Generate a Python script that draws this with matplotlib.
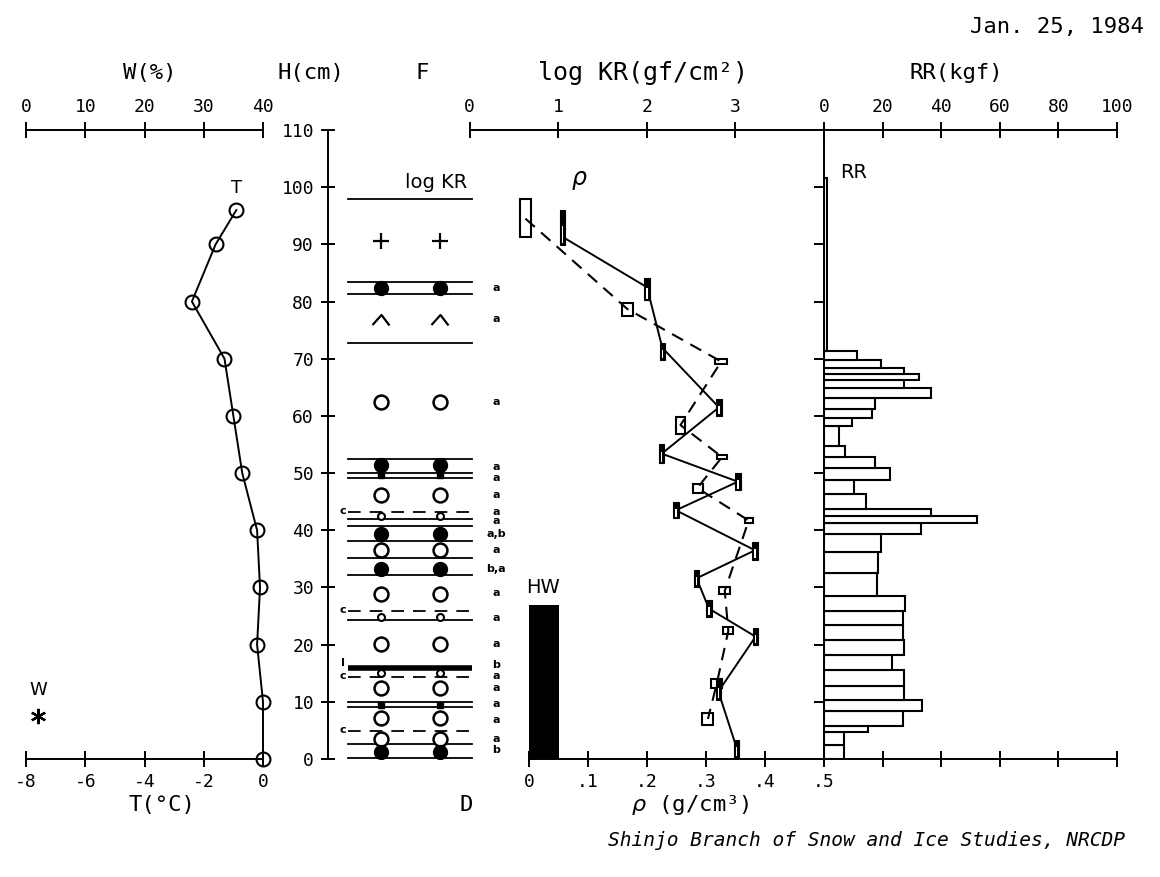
import matplotlib
matplotlib.use('Agg')
import matplotlib.pyplot as plt
from matplotlib.patches import Rectangle
from matplotlib.path import Path

plt.rcParams['font.family'] = ['DejaVu Sans Mono', 'DejaVu Sans']
plt.rcParams['axes.unicode_minus'] = False
plt.rcParams['mathtext.fontset'] = 'dejavusans'

# ---------------- data ----------------
# snow temperature profile
temp_H = [96, 90, 80, 70, 60, 50, 40, 30, 20, 10, 0]
temp_T = [-0.9, -1.6, -2.4, -1.3, -1.0, -0.7, -0.2, -0.1, -0.2, 0.0, 0.0]
# wetness
wet_H = [7.5]
wet_W = [2.0]

# ram resistance layers (bottom, top in cm; value kgf)
rr_bottom = [0, 2.4, 4.8, 5.8, 8.4, 10.3, 12.8, 15.6, 18.2, 20.8, 23.4, 25.9,
             28.5, 32.5, 36.2, 39.3, 41.3, 42.5, 43.8, 46.3, 48.8, 50.9, 52.9,
             54.8, 58.2, 59.7, 61.2, 63.2, 64.8, 66.3, 67.4, 68.3, 69.8, 71.4]
rr_top = rr_bottom[1:] + [101.6]
rr_value = [6.9, 6.9, 15.1, 27.1, 33.3, 27.4, 27.4, 23.1, 27.4, 27.1, 27.1, 27.6,
            18.2, 18.3, 19.5, 33.1, 52.3, 36.5, 14.3, 10.2, 22.5, 17.4, 7.2,
            5.2, 9.4, 16.3, 17.4, 36.5, 27.4, 32.4, 27.4, 19.5, 11.4, 1.0]

# log KR (hardness)
kr = [0.63, 1.78, 2.84, 2.38, 2.85, 2.57, 3.15, 2.88, 2.92, 2.79, 2.69]
kr_lo = [0.57, 1.72, 2.77, 2.33, 2.79, 2.52, 3.11, 2.82, 2.86, 2.73, 2.62]
kr_hi = [0.69, 1.84, 2.90, 2.43, 2.90, 2.63, 3.20, 2.94, 2.97, 2.85, 2.75]
kr_H = [94.5, 78.7, 69.5, 58.4, 52.8, 47.4, 41.7, 29.4, 22.4, 13.2, 7.0]
kr_H_lo = [91.3, 77.5, 69.1, 56.8, 52.4, 46.6, 41.3, 28.8, 21.9, 12.4, 5.9]
kr_H_hi = [97.9, 79.8, 69.9, 59.8, 53.1, 48.1, 42.1, 30.0, 23.1, 14.0, 8.1]

# density
rho = [0.057, 0.200, 0.226, 0.322, 0.225, 0.354, 0.249, 0.383, 0.284, 0.305,
       0.384, 0.321, 0.352]
rho_H = [91.3, 82.5, 71.9, 61.5, 53.4, 48.5, 43.5, 36.5, 31.6, 26.3, 21.4, 11.8, 1.9]
rho_H_lo = [89.9, 80.2, 69.8, 60.0, 51.7, 47.0, 42.1, 34.8, 30.1, 24.8, 19.9, 10.3, 0.3]
rho_H_hi = [96.0, 84.1, 72.7, 62.9, 55.1, 50.0, 44.9, 37.9, 33.0, 27.8, 22.9, 13.8, 3.3]

# HW (water) height
hw_H = 26.9

# stratigraphy (F column)
layer_H = [97.9, 83.5, 81.4, 72.8, 52.4, 50.1, 49.1, 43.2, 42.0, 40.8, 38.2,
           35.1, 32.2, 25.8, 24.3, 14.3, 10.0, 9.1, 4.9, 2.7, 0.1]
layer_style = ['-', '-', '-', '-', '-', '-', '-', '--', '-', '-', '-',
               '-', '-', '--', '-', '--', '-', '-', '--', '-', '-']
ice_H = [15.9]
grain_H = [90.6, 82.4, 77.0, 62.5, 51.4, 49.6, 46.2, 42.5, 39.3, 36.5, 33.3,
           28.8, 24.9, 20.1, 15.0, 12.4, 9.5, 7.2, 3.5, 1.3]
grain_type = ['plus', 'filled', 'facet', 'open', 'filled', 'square', 'open', 'small',
              'filled', 'open', 'filled', 'open', 'small', 'open', 'small', 'open',
              'square', 'open', 'open', 'filled']
letter_H = [82.3, 77.0, 62.5, 51.0, 49.1, 46.1, 43.2, 41.6, 39.3, 36.5, 33.3,
            29.0, 24.7, 20.1, 16.4, 14.5, 12.4, 9.6, 6.8, 3.5, 1.5]
letter_txt = ['a', 'a', 'a', 'a', 'a', 'a', 'a', 'a', 'a,b', 'a', 'b,a',
              'a', 'a', 'a', 'b', 'a', 'a', 'a', 'a', 'a', 'b']

H_ticks = list(range(0, 111, 10))
W_ticks = [0, 10, 20, 30, 40]
T_ticks = [-8, -6, -4, -2, 0]
KR_ticks = [0, 1, 2, 3]
rho_ticks = [0, 0.1, 0.2, 0.3, 0.4, 0.5]
rho_labels = ['0', '.1', '.2', '.3', '.4', '.5']
RR_ticks = [0, 20, 40, 60, 80, 100]

# ---------------- layout ----------------
FW, FH = 1160, 877
fig = plt.figure(figsize=(FW / 100, FH / 100), dpi=100)
Y_TOP, Y_BOT = 130, 759
LW = 1.4
TICKFS = 13


def add_ax(x0, x1):
    ax = fig.add_axes([x0 / FW, 1 - Y_BOT / FH, (x1 - x0) / FW, (Y_BOT - Y_TOP) / FH])
    ax.set_ylim(0, 110)
    ax.patch.set_visible(False)
    for s in ax.spines.values():
        s.set_visible(False)
        s.set_linewidth(LW)
    ax.set_xticks([])
    ax.set_yticks([])
    return ax


def ftext(x, y, s, **kw):
    kw.setdefault('ha', 'center')
    kw.setdefault('va', 'center')
    fig.text(x / FW, 1 - y / FH, s, **kw)


# ---- left panel: T (bottom) and W (top)
axT = add_ax(26, 263)
axT.set_xlim(-8, 0)
axT.spines['bottom'].set_visible(True)
axT.set_xticks(T_ticks)
axT.set_xticklabels([str(t) for t in T_ticks])
axT.tick_params(axis='x', direction='inout', length=12, width=LW, labelsize=TICKFS, pad=4)
axT.plot(temp_T, temp_H, color='k', lw=LW, marker='o', ms=10, mfc='none', mec='k',
         mew=1.5, clip_on=False, zorder=3)
axT.text(-0.9, 99.8, 'T', ha='center', va='center', fontsize=13, family='DejaVu Sans')

axW = add_ax(26, 263)
axW.set_xlim(0, 40)
axW.spines['top'].set_visible(True)
axW.xaxis.tick_top()
axW.set_xticks(W_ticks)
axW.tick_params(axis='x', direction='inout', length=12, width=LW, labelsize=TICKFS, pad=4)
axW.plot(wet_W, wet_H, ls='none', marker=(6, 2, 0), ms=11, mew=1.6, color='k')
axW.text(wet_W[0], 12.1, 'W', ha='center', va='center', fontsize=13, family='DejaVu Sans')

# ---- H axis + stratigraphy
axF = add_ax(328, 529)
axF.set_xlim(328, 529)
axF.spines['left'].set_visible(True)
axF.set_yticks(H_ticks)
axF.tick_params(axis='y', direction='inout', length=10, width=LW, labelsize=TICKFS, pad=5)

X0L, X1L = 348, 472
SYM_X = [381, 440]
for h, st in zip(layer_H, layer_style):
    if st == '--':
        axF.plot([X0L, X1L], [h, h], color='k', lw=1.3, ls=(0, (7, 5)))
        axF.text(343, h + 0.2, 'c', fontsize=8, fontweight='bold', family='DejaVu Sans',
                 ha='center', va='center')
    else:
        axF.plot([X0L, X1L], [h, h], color='k', lw=1.3)
for h in ice_H:
    axF.plot([X0L, X1L], [h, h], color='k', lw=4, solid_capstyle='butt')
    axF.text(343, h + 0.9, 'I', fontsize=8, fontweight='bold', family='DejaVu Sans',
             ha='center', va='center')

facet_path = Path([(-0.9, -0.55), (0.0, 0.45), (0.8, -0.6)],
                  [Path.MOVETO, Path.LINETO, Path.LINETO])
for h, g in zip(grain_H, grain_type):
    for x in SYM_X:
        if g == 'plus':
            axF.plot(x, h, marker='+', ms=11, mew=1.6, color='k')
        elif g == 'filled':
            axF.plot(x, h, marker='o', ms=10, mfc='k', mec='k', zorder=3)
        elif g == 'open':
            axF.plot(x, h, marker='o', ms=10, mfc='white', mec='k', mew=1.8, zorder=3)
        elif g == 'small':
            axF.plot(x, h, marker='o', ms=5, mfc='white', mec='k', mew=1.5, zorder=3)
        elif g == 'square':
            axF.plot(x, h, marker='s', ms=4, mfc='k', mec='k', zorder=3)
        elif g == 'facet':
            axF.plot(x, h, marker=facet_path, ms=13, mfc='none', mec='k', mew=1.6)
for h, t in zip(letter_H, letter_txt):
    axF.text(496, h, t, fontsize=8, fontweight='bold', family='DejaVu Sans',
             ha='center', va='center')
axF.text(436, 100.9, 'log KR', fontsize=14, family='DejaVu Sans', ha='center', va='center')

# ---- log KR (top axis of middle panel)
axKR = add_ax(469.6, 824)
axKR.set_xlim(0, 4)
axKR.spines['top'].set_visible(True)
axKR.xaxis.tick_top()
axKR.set_xticks(KR_ticks)
axKR.tick_params(axis='x', direction='inout', length=12, width=LW, labelsize=TICKFS, pad=4)
axKR.plot(kr, kr_H, color='k', lw=1.5, ls=(0, (6, 4)))
for v, lo, hi, h0, h1 in zip(kr, kr_lo, kr_hi, kr_H_lo, kr_H_hi):
    axKR.add_patch(Rectangle((lo, h0), hi - lo, h1 - h0, fill=False, ec='k', lw=1.5))

# ---- density (bottom axis of middle panel)
axR = add_ax(529, 824)
axR.set_xlim(0, 0.5)
axR.spines['bottom'].set_visible(True)
axR.set_xticks(rho_ticks)
axR.set_xticklabels(rho_labels)
axR.tick_params(axis='x', direction='inout', length=12, width=LW, labelsize=TICKFS, pad=4)
axR.bar(0, hw_H, width=0.051, align='edge', color='k')
axR.text(0.023, hw_H + 3.1, 'HW', fontsize=14, family='DejaVu Sans', ha='center', va='center')
axR.plot(rho, rho_H, color='k', lw=1.4)
for r, h0, h1 in zip(rho, rho_H_lo, rho_H_hi):
    axR.add_patch(Rectangle((r - 0.0045, h0), 0.009, h1 - h0, fc='k', ec='k', lw=0.8, zorder=3))
    axR.add_patch(Rectangle((r - 0.0012, h0 + 0.3), 0.0024, (h1 - h0) * 0.5,
                            fc='white', ec='none', zorder=4))
axR.text(0.085, 101.3, r'$\rho$', fontsize=17, ha='center', va='center')

# ---- RR panel
axRR = add_ax(824, 1117)
axRR.set_xlim(0, 100)
for s in ['top', 'bottom', 'left']:
    axRR.spines[s].set_visible(True)
axRR.set_xticks(RR_ticks)
axRR.tick_params(axis='x', which='both', top=True, bottom=True, labeltop=True,
                 labelbottom=False, direction='inout', length=12, width=LW,
                 labelsize=TICKFS, pad=4)
axRR.set_yticks(H_ticks[:-1])
axRR.tick_params(axis='y', direction='out', length=7, width=LW, labelleft=False)
heights = [t - b for b, t in zip(rr_bottom, rr_top)]
axRR.barh(rr_bottom, rr_value, height=heights, left=0, align='edge',
          fc='white', ec='k', lw=1.5)
axRR.text(10, 102.6, 'RR', fontsize=14, family='DejaVu Sans', ha='center', va='center')

# ---- titles and labels
TFS = 16
ftext(1057, 27, 'Jan. 25, 1984', fontsize=16)
ftext(150, 73, 'W(%)', fontsize=TFS)
ftext(311, 73, 'H(cm)', fontsize=TFS)
ftext(422, 73, 'F', fontsize=TFS)
ftext(643, 73, 'log KR(gf/cm²)', fontsize=18)
ftext(956, 73, 'RR(kgf)', fontsize=TFS)
ftext(162, 805, 'T(°C)', fontsize=TFS)
ftext(466, 805, 'D', fontsize=TFS)
ftext(690, 805, r'$\rho$ (g/cm³)', fontsize=TFS)
ftext(866, 840, 'Shinjo Branch of Snow and Ice Studies, NRCDP', fontsize=14,
      style='italic')

fig.savefig('out.png', dpi=100)
